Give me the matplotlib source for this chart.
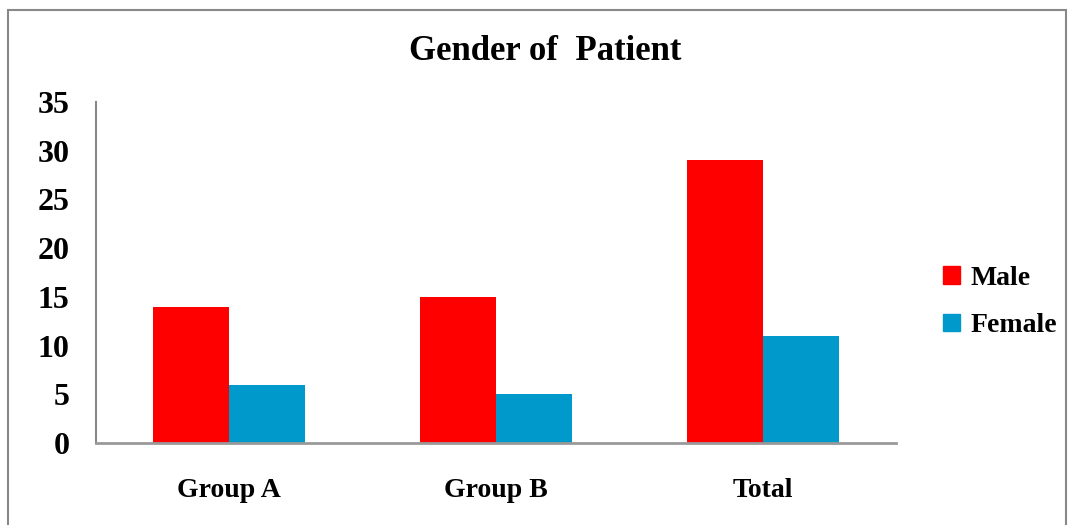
import matplotlib
matplotlib.use("Agg")
import matplotlib.pyplot as plt
import numpy as np
from matplotlib.patches import Rectangle, Patch

categories = ["Group A", "Group B", "Total"]
male = [14, 15, 29]
female = [6, 5, 11]
yticks = [0, 5, 10, 15, 20, 25, 30, 35]

W, H = 1070, 525
fig = plt.figure(figsize=(W / 100, H / 100), dpi=100)
font = "Liberation Serif"

# outer frame
fig.patches.append(Rectangle((8 / W, -0.1), (1066 - 8) / W, 1.1 - 10 / H,
                             transform=fig.transFigure, fill=False,
                             edgecolor="#888888", linewidth=1.5))

ax = fig.add_axes([96 / W, (H - 443) / H, (896 - 96) / W, (443 - 102) / H])
x = np.arange(len(categories))
bw = 0.285
ax.bar(x - bw / 2, male, bw, color="#ff0000", label="Male")
ax.bar(x + bw / 2, female, bw, color="#0099cc", label="Female")
ax.set_xlim(-0.5, 2.5)
ax.set_ylim(0, 35)
ax.set_yticks(yticks)
ax.set_yticklabels([str(v) for v in yticks], fontfamily=font, fontweight="bold", fontsize=23)
ax.set_xticks(x)
ax.set_xticklabels(categories, fontfamily=font, fontweight="bold", fontsize=20)
ax.tick_params(axis="y", length=0, pad=19)
ax.tick_params(axis="x", length=0, pad=25)
for s in ["top", "right"]:
    ax.spines[s].set_visible(False)
ax.spines["left"].set_color("#888888")
ax.spines["left"].set_linewidth(1.5)
ax.spines["bottom"].set_color("#999999")
ax.spines["bottom"].set_linewidth(2)

fig.text(545 / W, 1 - 51 / H, "Gender of  Patient", ha="center", va="center",
         fontfamily=font, fontweight="bold", fontsize=25)

handles = [Patch(color="#ff0000", label="Male"), Patch(color="#0099cc", label="Female")]
fig.legend(handles=handles, loc="center left", bbox_to_anchor=(918 / W, 1 - 302 / H),
           frameon=False, prop={"family": font, "weight": "bold", "size": 20},
           handlelength=0.6, handleheight=0.6, handletextpad=0.4, labelspacing=0.8)

fig.savefig("out.png", dpi=100)
